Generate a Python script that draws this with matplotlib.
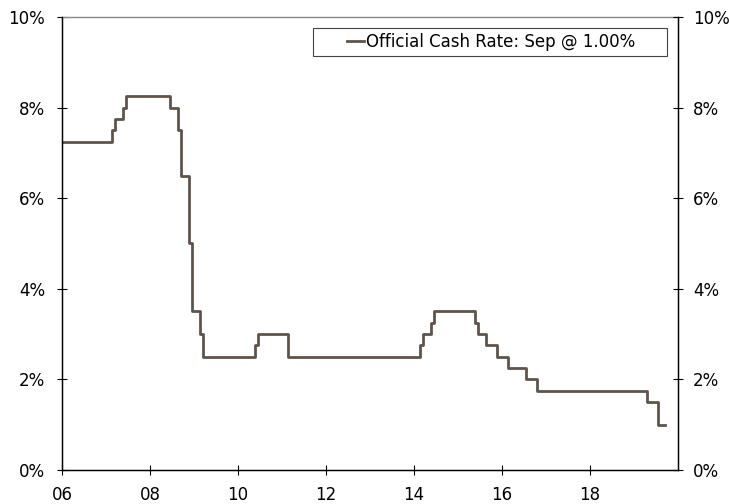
import numpy as np
import pandas as pd
from matplotlib import pyplot as plt
from matplotlib.patches import Rectangle

# OCR decisions: (year, month) the new rate takes effect, and the rate (%)
years = [2006, 2007, 2007, 2007, 2007,
         2008, 2008, 2008, 2008, 2009,
         2009, 2009, 2010, 2010, 2011,
         2014, 2014, 2014, 2014, 2015,
         2015, 2015, 2015, 2016, 2016,
         2016, 2019, 2019]
months = [1, 3, 4, 6, 7,
          7, 9, 10, 12, 1,
          3, 4, 6, 7, 3,
          3, 4, 6, 7, 6,
          7, 9, 12, 3, 8,
          11, 5, 8]
rates = [7.25, 7.50, 7.75, 8.00, 8.25,
         8.00, 7.50, 6.50, 5.00, 3.50,
         3.00, 2.50, 2.75, 3.00, 2.50,
         2.75, 3.00, 3.25, 3.50, 3.25,
         3.00, 2.75, 2.50, 2.25, 2.00,
         1.75, 1.50, 1.00]
last_year, last_month = 2019, 9   # series ends Sep 2019
xtick_years = [2006, 2008, 2010, 2012, 2014, 2016, 2018]
xtick_labels = ["06", "08", "10", "12", "14", "16", "18"]
yticks = [0, 2, 4, 6, 8, 10]

# monthly series drawn as mid steps -> transitions half a month early
x = np.array(years) + (np.array(months) - 1.5) / 12.0
x[0] = 2006
x = np.append(x, last_year + (last_month - 1) / 12.0 + 0.03)
y = np.append(rates, rates[-1])

fig = plt.figure(figsize=(7.29, 5.04), dpi=100)
ax = fig.add_axes([62/729, 1 - 470/504, (678-62)/729, (470-17)/504])

ax.plot(x, y, drawstyle="steps-post", color="#5e544b", lw=2.0,
        label="Official Cash Rate: Sep @ 1.00%")

ax.set_xlim(2006, 2020)
ax.set_ylim(0, 10)
ax.set_xticks(xtick_years)
ax.set_xticklabels(xtick_labels)
ax.set_yticks(yticks)
ax.set_yticklabels([f"{v}%" for v in yticks])
ax.spines["top"].set_color("#888888")
ax.spines["top"].set_linewidth(1.0)
for s in ["left", "right", "bottom"]:
    ax.spines[s].set_linewidth(1.0)
ax.tick_params(axis="both", direction="inout", length=7.5, labelsize=12, width=0.8)
ax.tick_params(axis="y", pad=8.5)
ax.tick_params(axis="x", pad=7.5)

ax2 = ax.twinx()
ax2.set_ylim(0, 10)
ax2.set_yticks(yticks)
ax2.set_yticklabels([f"{v}%" for v in yticks])
ax2.spines["top"].set_visible(False)
ax2.tick_params(axis="y", direction="inout", length=7.5, labelsize=12, width=0.8, pad=7)

# legend box
fig.patches.append(Rectangle((313/729, 1 - 56/504), (667-313)/729, 28/504,
                             transform=fig.transFigure, fill=False,
                             edgecolor="#444444", lw=0.8))
ax.legend(loc="center", bbox_to_anchor=(491/729, 1 - 42/504),
          bbox_transform=fig.transFigure, fontsize=12, frameon=False,
          handlelength=1.0, handletextpad=0.1)

plt.savefig("out.png", dpi=100)
